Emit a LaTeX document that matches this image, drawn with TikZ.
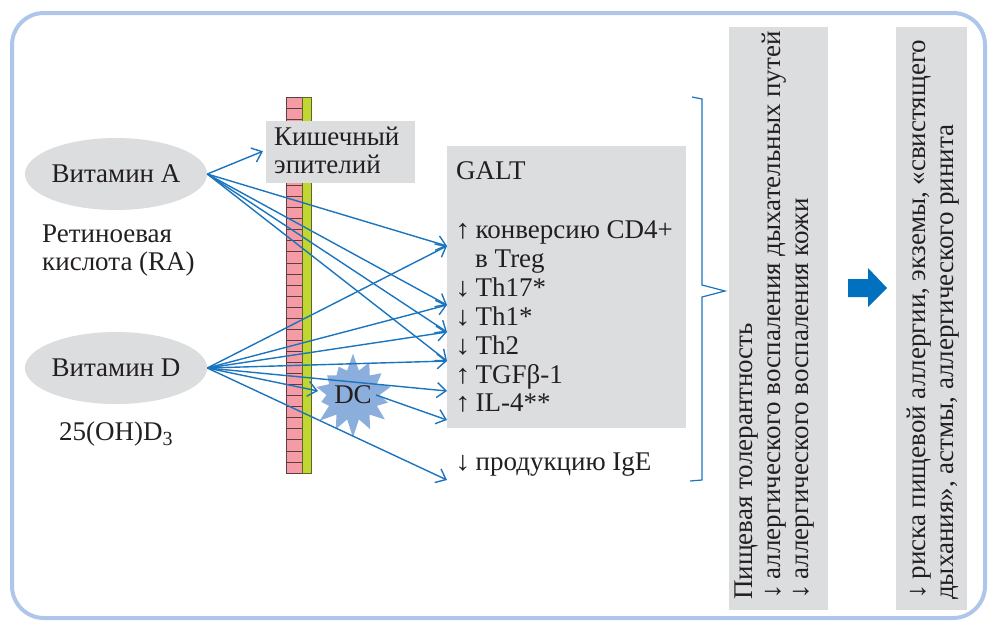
\documentclass[tikz,border=0pt]{standalone}
\usepackage{fontspec}
\usepackage{graphicx}
\setmainfont{Liberation Serif}
\usetikzlibrary{arrows.meta,shapes.geometric,shapes.symbols}
\definecolor{framecol}{HTML}{ADC6E9}
\definecolor{graycol}{HTML}{DCDDDF}
\definecolor{bluecol}{HTML}{1B74BE}
\definecolor{pinkcol}{HTML}{F59BA6}
\definecolor{celldraw}{HTML}{5B3E40}
\definecolor{greencol}{HTML}{BFD730}
\definecolor{greendraw}{HTML}{5F6526}
\definecolor{dccol}{HTML}{8CAEDD}
\definecolor{bigarrowcol}{HTML}{0070BF}
\definecolor{textcol}{HTML}{231F20}
\newcommand\uparr{\scalebox{1.15}[1.0]{↑}\hspace{0.18em}}
\newcommand\dnarr{\scalebox{1.15}[1.0]{↓}\hspace{0.18em}}
\tikzset{
  arr/.style={draw=bluecol, line width=1.4pt, -{Straight Barb[length=9pt,width=15pt]}},
  lbl/.style={anchor=base west, inner sep=0pt, text=textcol},
  vlbl/.style={rotate=90, anchor=base west, inner sep=0pt, text=textcol},
  graybox/.style={fill=graycol, draw=none, inner sep=0pt, anchor=north west},
  vitamin/.style={ellipse, fill=graycol, inner sep=0pt, minimum width=156pt, minimum height=72pt, text=textcol}
}
\begin{document}
\begin{tikzpicture}[x=1pt,y=-1pt,font=\fontsize{27}{30}\selectfont]
\useasboundingbox (0,0) rectangle (990,622);
% frame
\draw[framecol, line width=4pt, rounded corners=32pt] (12,13) rectangle (985,618);
% right boxes
\node[graybox, minimum width=99pt, minimum height=583pt] (box1) at (729,27) {};
\node[graybox, minimum width=71pt, minimum height=583pt] (box2) at (896,27) {};
\node[vlbl] (tol) at (752,600) {Пищевая толерантность};
\node[vlbl] (resp) at (780,600) {\dnarr аллергического воспаления дыхательных путей};
\node[vlbl] (skin) at (808,600) {\dnarr аллергического воспаления кожи};
\node[vlbl] (risk1) at (925,600) {\dnarr риска пищевой аллергии, экземы, «свистящего};
\node[vlbl] (risk2) at (953,600) {дыхания», астмы, аллергического ринита};
% big arrow
\fill[bigarrowcol] (848,279) -- (868,279) -- (868,268) -- (887,288) -- (868,307) -- (868,297) -- (848,297) -- cycle;
% brace
\draw[bluecol, line width=1.2pt] (692,97) -- (702,99) -- (702,285) -- (725,291) -- (702,297) -- (702,480) -- (690,481);
% epithelium
\foreach \i in {0,...,33} {
  \draw[fill=pinkcol, draw=celldraw, line width=0.8pt] (286,{97+\i*11.06}) rectangle (302,{97+(\i+1)*11.06});
}
\draw[fill=greencol, draw=greendraw, line width=0.8pt] (302,97) rectangle (311,473);
\node[graybox, minimum width=149pt, minimum height=62pt] (epi) at (266,121) {};
\node[lbl] (epi1) at (274,145) {Кишечный};
\node[lbl] (epi2) at (274,173) {эпителий};
% vitamins
\node[vitamin] (va) at (116,174) {Витамин A};
\node[vitamin] (vd) at (116,368) {Витамин D};
\node[lbl] (ra1) at (42,242) {Ретиноевая};
\node[lbl] (ra2) at (42,270) {кислота (RA)};
\node[lbl] (ohd) at (59,440) {25(OH)D\raisebox{-0.22em}{\fontsize{20}{20}\selectfont 3}};
% GALT
\node[graybox, minimum width=239pt, minimum height=282pt] (galt) at (447,146) {};
\node[lbl] (galtt) at (456,179) {GALT};
\node[lbl] (conv) at (455,238) {\uparr конверсию CD4+};
\node[lbl] (treg) at (475,267) {в Treg};
\node[lbl] (th17) at (455,296) {\dnarr Th17*};
\node[lbl] (th1) at (455,325) {\dnarr Th1*};
\node[lbl] (th2) at (455,354) {\dnarr Th2};
\node[lbl] (tgf) at (455,383) {\uparr TGFβ-1};
\node[lbl] (il4) at (455,411) {\uparr IL-4**};
\node[lbl] (ige) at (455,470) {\dnarr продукцию IgE};
% DC
\node[starburst, starburst points=14, starburst point height=18pt, random starburst=7, fill=dccol, draw=none, minimum width=82pt, minimum height=86pt, inner sep=0pt, text=textcol] (dc) at (353,395) {DC};
\coordinate (dcin) at (318,391);
\coordinate (dcout) at (376,395);
% arrows from vitamin A
\draw[arr] (va.east) -- ([xshift=-3pt,yshift=1pt]epi.west);
\draw[arr] (va.east) -- ([xshift=-8pt,yshift=-8pt]conv.base west);
\draw[arr] (va.east) -- ([xshift=-8pt,yshift=-9pt]th17.base west);
\draw[arr] (va.east) -- ([xshift=-8pt,yshift=-7pt]th1.base west);
\draw[arr] (va.east) -- ([xshift=-8pt,yshift=-7pt]th2.base west);
% arrows from vitamin D
\draw[arr] (vd.east) -- ([xshift=-8pt,yshift=-8pt]conv.base west);
\draw[arr] (vd.east) -- ([xshift=-8pt,yshift=-9pt]th17.base west);
\draw[arr] (vd.east) -- ([xshift=-8pt,yshift=-7pt]th1.base west);
\draw[arr] (vd.east) -- ([xshift=-8pt,yshift=-7pt]th2.base west);
\draw[arr] (vd.east) -- ([xshift=-8pt,yshift=-8pt]tgf.base west);
\draw[arr] (vd.east) -- (dcin);
\draw[arr] (vd.east) -- ([xshift=-8pt,yshift=-10pt]ige.base west);
\draw[arr] (dcout) -- ([xshift=-8pt,yshift=-9pt]il4.base west);
\end{tikzpicture}
\end{document}
